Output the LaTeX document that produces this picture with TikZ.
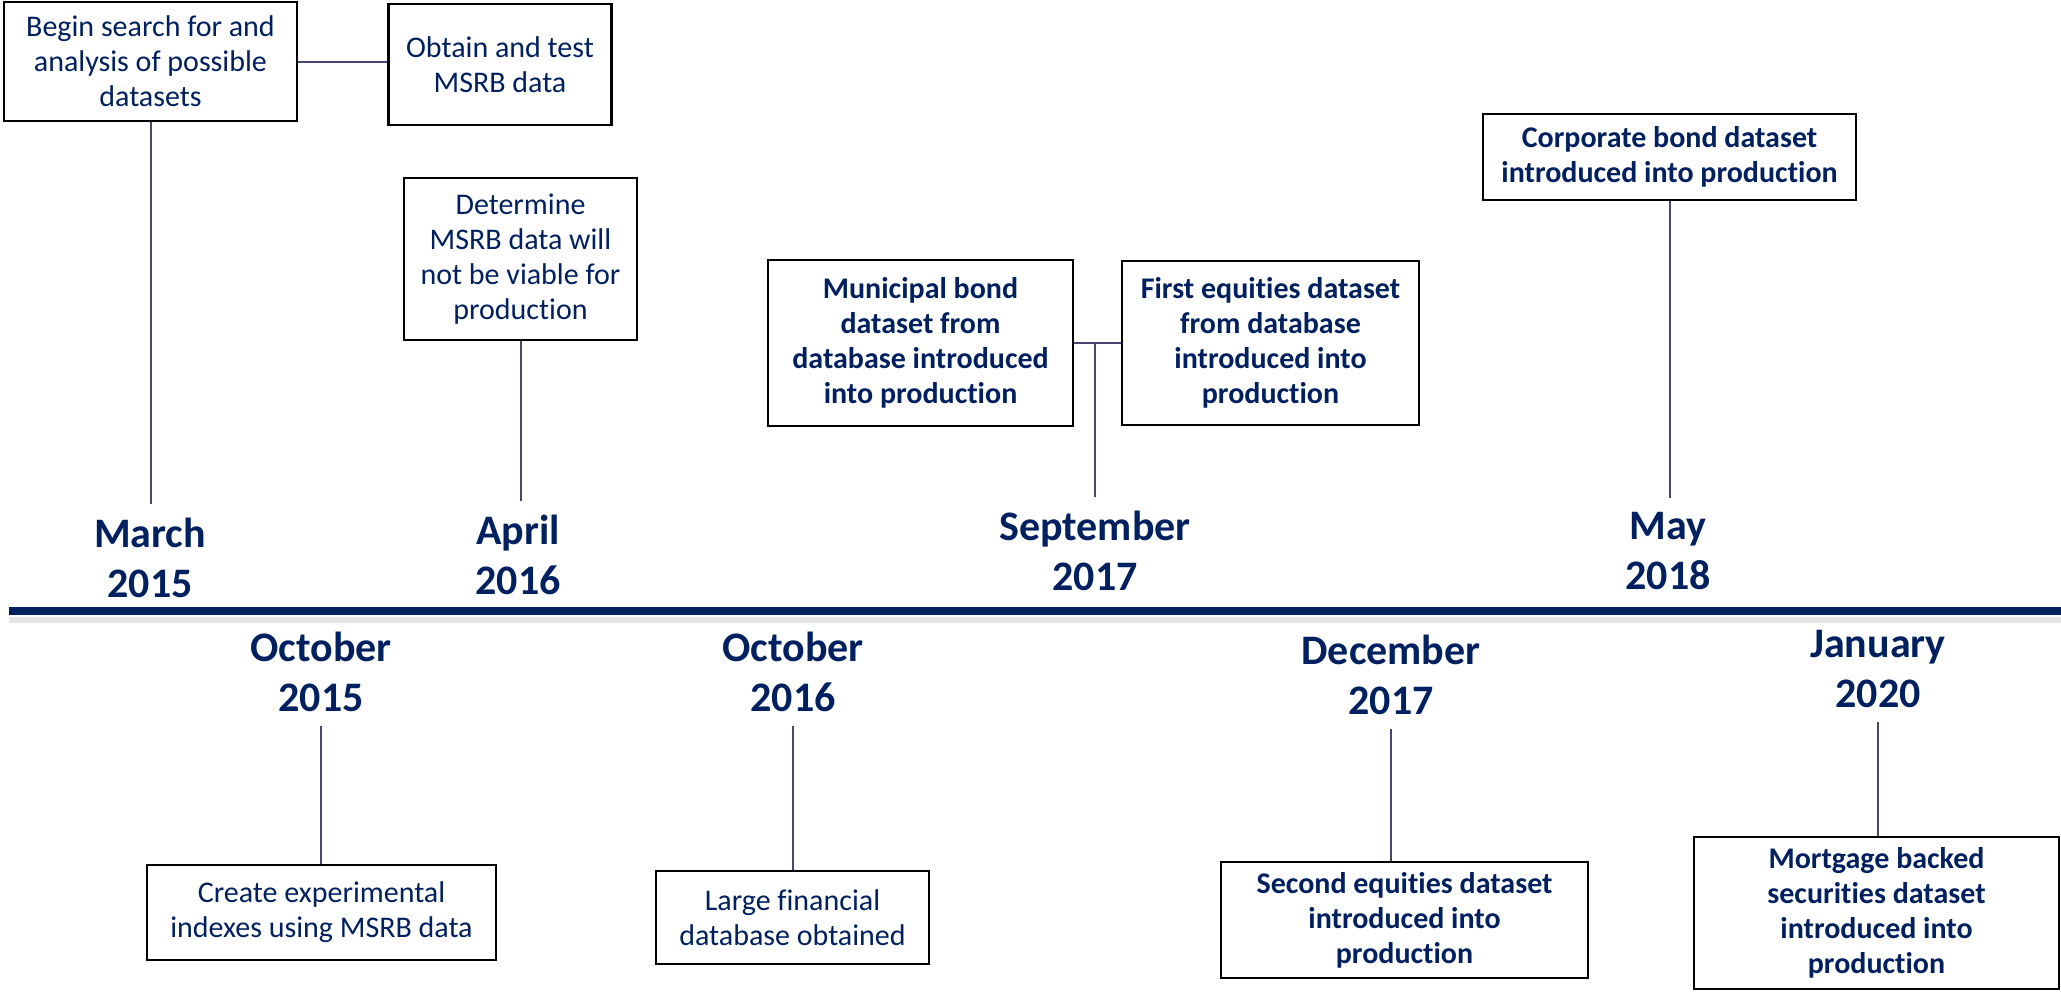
\documentclass[tikz,border=0pt]{standalone}
\usepackage{fontspec}
\setmainfont{Carlito}[Ligatures=NoCommon]
\usetikzlibrary{positioning, calc}
\definecolor{navy}{HTML}{002060}
\definecolor{stemgray}{RGB}{70,70,110}

\begin{document}
\begin{tikzpicture}[
    x=0.5pt, y=-0.5pt,
    box/.style={draw=black, line width=1.2pt, rectangle, align=center, text=navy, font=\fontsize{15}{17.5}\selectfont, inner sep=0pt},
    boldbox/.style={box, font=\fontsize{15}{17.5}\selectfont\bfseries},
    date/.style={align=center, text=navy, font=\fontsize{21}{25}\selectfont\bfseries, inner sep=7pt},
    stem/.style={draw=stemgray, line width=1pt},
    timeline/.style={draw=navy, line width=4.2pt},
    shadowline/.style={draw=black!10, line width=3pt}
]
\useasboundingbox (0,0) rectangle (2061,991);

% Timeline bar
\coordinate (tl_start) at (9,611);
\coordinate (tl_end) at (2061,611);
\draw[shadowline] ($(tl_start)+(0,9)$) -- ($(tl_end)+(0,9)$);
\draw[timeline] (tl_start) -- (tl_end);

% Dates above the bar
\node[date] (march) at (150,558) {March\\2015};
\node[date] (april) at (518,555) {April\\2016};
\node[date] (sept) at (1095,551) {September\\2017};
\node[date] (may) at (1668,551) {May\\2018};

% Dates below the bar
\node[date] (oct15) at (321,672) {October\\2015};
\node[date] (oct16) at (793,672) {October\\2016};
\node[date] (dec17) at (1391,675) {December\\2017};
\node[date] (jan20) at (1878,669) {January\\2020};

% Upper boxes
\node[box, minimum width=146.5pt, minimum height=59.5pt] (begin) at (150.5,61.5) {Begin search for and\\analysis of possible\\datasets};
\node[box, minimum width=111.5pt, minimum height=60.5pt] (obtain) at (500,64.5) {Obtain and test\\MSRB data};
\node[box, minimum width=116.5pt, minimum height=81pt] (determine) at (520.5,259) {Determine\\MSRB data will\\not be viable for\\production};
\node[boldbox, minimum width=152.5pt, minimum height=83pt] (municipal) at (920.5,343) {Municipal bond\\dataset from\\database introduced\\into production};
\node[boldbox, minimum width=148.5pt, minimum height=82pt] (firsteq) at (1270.5,343) {First equities dataset\\from database\\introduced into\\production};
\node[boldbox, minimum width=186.5pt, minimum height=43pt] (corporate) at (1669.5,157) {Corporate bond dataset\\introduced into production};

% Lower boxes
\node[box, minimum width=174.5pt, minimum height=47.5pt] (create) at (321.5,912.5) {Create experimental\\indexes using MSRB data};
\node[box, minimum width=136.5pt, minimum height=46.5pt] (large) at (792.5,917.5) {Large financial\\database obtained};
\node[boldbox, minimum width=183.5pt, minimum height=58pt] (secondeq) at (1404.5,920) {Second equities dataset\\introduced into\\production};
\node[boldbox, minimum width=182.5pt, minimum height=76pt] (mortgage) at (1876.5,913) {Mortgage backed\\securities dataset\\introduced into\\production};

% Connections
\draw[stem] (begin.east) -- (begin.east -| obtain.west);
\draw[stem] (begin.south) -- (begin.south |- march.north);
\draw[stem] (determine.south) -- (determine.south |- april.north);
\draw[stem] (municipal.east) -- (firsteq.west);
\draw[stem] (sept.north) -- (sept.north |- municipal.east);
\draw[stem] (corporate.south) -- (corporate.south |- may.north);

\draw[stem] (oct15.south) -- (oct15.south |- create.north);
\draw[stem] (oct16.south) -- (oct16.south |- large.north);
\draw[stem] (dec17.south) -- (dec17.south |- secondeq.north);
\draw[stem] (jan20.south) -- (jan20.south |- mortgage.north);

\end{tikzpicture}
\end{document}
